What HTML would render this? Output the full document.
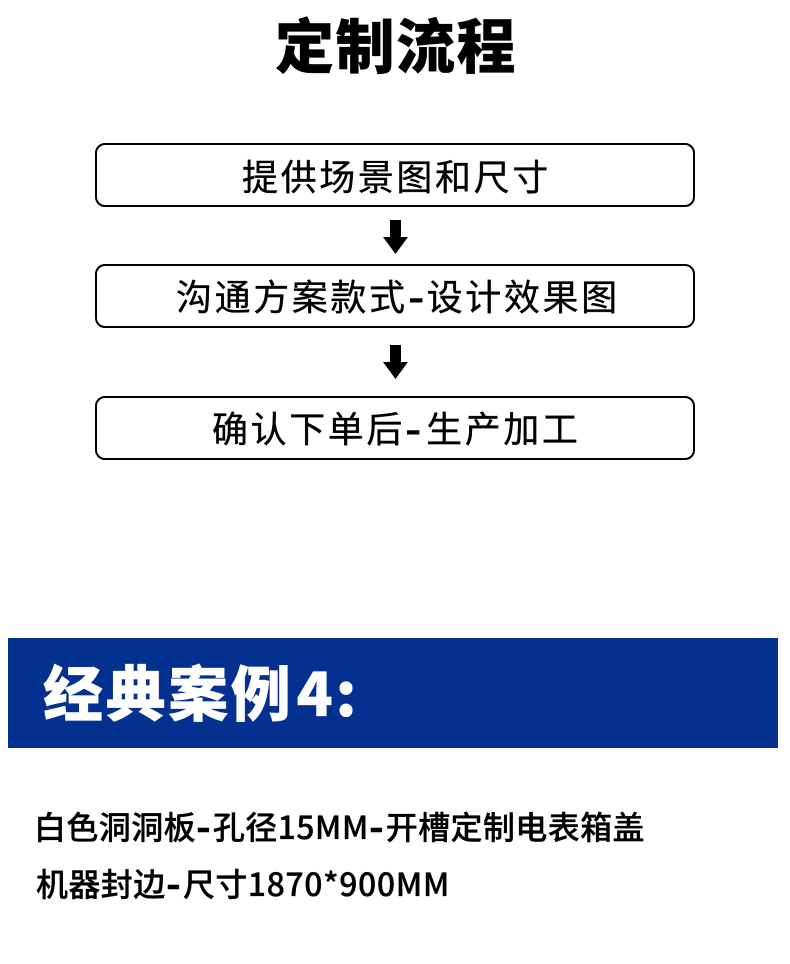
<!DOCTYPE html>
<html lang="zh"><head><meta charset="utf-8"><style>
html,body{margin:0;padding:0;background:#fff}
#p{position:relative;width:790px;height:964px;overflow:hidden;background:#fff;font-family:"Liberation Sans","Noto Sans CJK SC",sans-serif;color:#000}
.t{position:absolute;white-space:nowrap;line-height:1;font-family:"Noto Sans CJK SC",sans-serif}
.b{position:absolute;left:95px;width:596px;height:60px;border:2px solid #000;border-radius:10px}
.m{-webkit-text-stroke:.35px #000}
.h{display:inline-block;transform:scale(1.3,1.5);transform-origin:0 62%}
svg{position:absolute}
</style></head><body><div id="p">
<div class="t" style="left:275px;top:13px;font-size:59px;font-weight:900;letter-spacing:1.5px;-webkit-text-stroke:.3px #000">定制流程</div>
<div class="b" style="top:143px"></div>
<div class="b" style="top:264px"></div>
<div class="b" style="top:396px"></div>
<div class="t m" style="left:242px;top:157px;font-size:36px;letter-spacing:2.6px">提供场景图和尺寸</div>
<div class="t m" style="left:176px;top:277px;font-size:36px;letter-spacing:2.6px">沟通方案款式<span class="h" style="letter-spacing:6.6px">-</span>设计效果图</div>
<div class="t m" style="left:212px;top:409px;font-size:36px;letter-spacing:2.6px">确认下单后<span class="h" style="letter-spacing:8.6px">-</span>生产加工</div>
<svg style="left:382px;top:219px" width="28" height="36"><path d="M8 1H19V18H26L13.5 35L1 18H8Z" fill="#000"/></svg>
<svg style="left:382px;top:344px" width="28" height="36"><path d="M8 1H19V18H26L13.5 35L1 18H8Z" fill="#000"/></svg>
<div style="position:absolute;left:8px;top:638px;width:770px;height:110px;background:#04318f"></div>
<div class="t" style="left:43px;top:661px;font-size:60px;font-weight:900;letter-spacing:2.6px;color:#fff;-webkit-text-stroke:.3px #fff">经典案例<span style="margin-left:3px;letter-spacing:3.5px">4</span><span style="margin-left:-1px">:</span></div>
<div class="t" style="left:34px;top:810px;font-size:32px;font-weight:500;letter-spacing:.4px;-webkit-text-stroke:.3px #000">白色洞洞板<span class="h" style="letter-spacing:5.4px">-</span>孔径15MM<span class="h" style="letter-spacing:5.4px">-</span>开槽定制电表箱盖</div>
<div class="t" style="left:36px;top:867px;font-size:32px;font-weight:500;letter-spacing:.4px;-webkit-text-stroke:.3px #000">机器封边<span class="h" style="letter-spacing:5.9px">-</span>尺寸<span style="letter-spacing:.6px">1870*900MM</span></div>
</div></body></html>
